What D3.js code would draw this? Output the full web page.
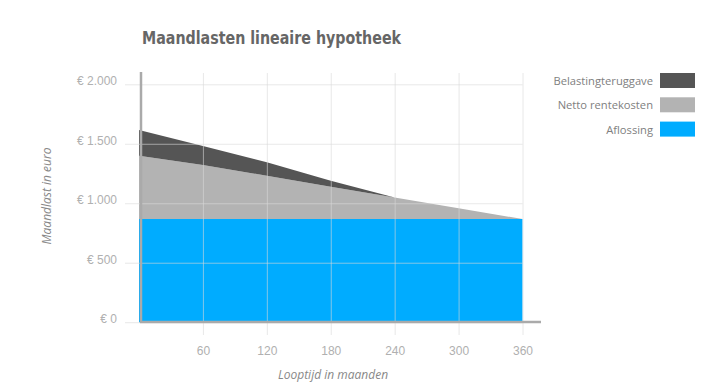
<!DOCTYPE html>
<meta charset="utf-8">
<style>
body { margin: 0; background: #fff; font-family: "Open Sans", sans-serif; }
.tick text { fill: #b0b0b0; font-size: 12px; }
</style>
<body>
<script src="https://cdn.jsdelivr.net/npm/d3@7"></script>
<script>

// months on x, euro per month on y
var months = [0, 60, 120, 180, 240, 300, 360];
var aflossing = [868, 868, 868, 868, 868, 868, 868];
var nettoRente = [531, 453, 363, 271, 180, 89, 0];
var belasting = [216, 161, 114, 50, 0, 0, 0];

var xTicks = [60, 120, 180, 240, 300, 360];
var yTicks = [0, 500, 1000, 1500, 2000];

var series = [
  {name: "Belastingteruggave", color: "#555555"},
  {name: "Netto rentekosten", color: "#b3b3b3"},
  {name: "Aflossing", color: "#00acff"}
];

var width = 720, height = 383;

var x = d3.scaleLinear().domain([0, 360]).range([139, 522.5]);
var y = d3.scaleLinear().domain([0, 2000]).range([322.2, 84.3]);

var svg = d3.select("body").append("svg")
    .attr("width", width)
    .attr("height", height);

var data = months.map(function(m, i) {
  return {m: m, a: aflossing[i], n: nettoRente[i], b: belasting[i]};
});

var stack = d3.stack().keys(["a", "n", "b"]);
var layers = stack(data);
var colors = {a: "#00acff", n: "#b3b3b3", b: "#555555"};

var area = d3.area()
    .x(function(d) { return x(d.data.m); })
    .y0(function(d) { return y(d[0]); })
    .y1(function(d) { return y(d[1]); });

svg.selectAll(".layer")
    .data(layers)
  .enter().append("path")
    .attr("class", "layer")
    .attr("d", area)
    .attr("fill", function(d) { return colors[d.key]; });

// horizontal grid
svg.append("g")
    .attr("transform", "translate(" + x(360) + ",0)")
    .call(d3.axisLeft(y).tickValues(yTicks).tickSize(x(360) - 125)
      .tickFormat(function(d) { return "€ " + d3.format(",")(d).replace(",", "."); }))
    .call(function(g) {
      g.select(".domain").remove();
      g.selectAll(".tick line").attr("stroke", "#d8d8d8").attr("stroke-opacity", 0.6);
      g.selectAll(".tick text").attr("x", -(x(360) - 117)).attr("dx", 0).attr("y", -3.5);
    });

// vertical grid
svg.append("g")
    .attr("transform", "translate(0,73)")
    .call(d3.axisBottom(x).tickValues(xTicks).tickSize(262).tickFormat(d3.format("d")))
    .call(function(g) {
      g.select(".domain").remove();
      g.selectAll(".tick line").attr("stroke", "#d8d8d8").attr("stroke-opacity", 0.6);
      g.selectAll(".tick text").attr("y", 282).attr("dy", 0);
    });

// axis lines
svg.append("line")
    .attr("x1", 141).attr("x2", 141)
    .attr("y1", 72).attr("y2", 323)
    .attr("stroke", "#aaa").attr("stroke-width", 2.5);
svg.append("line")
    .attr("x1", 140).attr("x2", 541)
    .attr("y1", 322).attr("y2", 322)
    .attr("stroke", "#aaa").attr("stroke-width", 2.5);

// title
svg.append("text")
    .attr("x", 142)
    .attr("y", 44)
    .attr("textLength", 259)
    .attr("lengthAdjust", "spacingAndGlyphs")
    .style("font-family", "'DejaVu Sans Condensed', 'DejaVu Sans', sans-serif")
    .style("font-size", "18px")
    .style("font-weight", "bold")
    .attr("fill", "#666")
    .text("Maandlasten lineaire hypotheek");

// axis titles
svg.append("text")
    .attr("transform", "translate(51,196) rotate(-90)")
    .attr("text-anchor", "middle")
    .style("font-size", "12px")
    .style("font-style", "italic")
    .attr("fill", "#888")
    .text("Maandlast in euro");

svg.append("text")
    .attr("x", 333)
    .attr("y", 379)
    .attr("text-anchor", "middle")
    .style("font-size", "12px")
    .style("font-style", "italic")
    .attr("fill", "#888")
    .text("Looptijd in maanden");

// legend
var legend = svg.selectAll(".legend")
    .data(series)
  .enter().append("g")
    .attr("class", "legend")
    .attr("transform", function(d, i) { return "translate(0," + (73 + i * 24.3) + ")"; });

legend.append("rect")
    .attr("x", 660)
    .attr("width", 35)
    .attr("height", 15)
    .attr("fill", function(d) { return d.color; });

legend.append("text")
    .attr("x", 653)
    .attr("y", 12)
    .attr("text-anchor", "end")
    .style("font-size", "11.2px")
    .attr("fill", "#808080")
    .text(function(d) { return d.name; });

</script>
